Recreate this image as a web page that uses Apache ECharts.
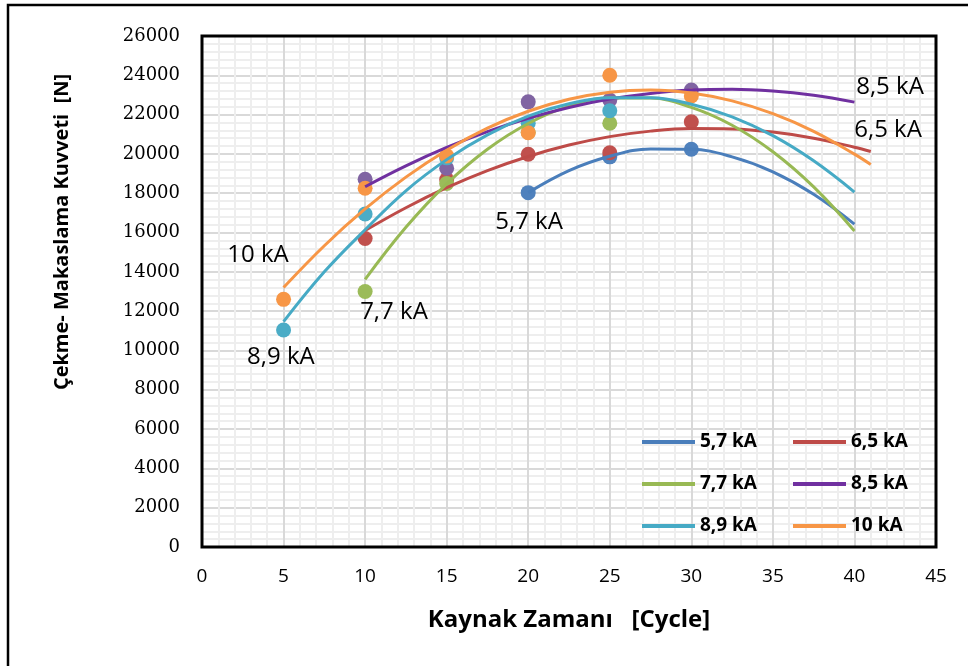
<!DOCTYPE html>
<html>
<head>
<meta charset="utf-8">
<script src="https://cdn.jsdelivr.net/npm/echarts@6/dist/echarts.min.js"></script>
<style>
html,body{margin:0;padding:0;background:#fff;}
#c{width:968px;height:666px;}
</style>
</head>
<body>
<div id="c"></div>
<script>
// ---- data ----
const seriesNames = ['5,7 kA', '6,5 kA', '7,7 kA', '8,5 kA', '8,9 kA', '10 kA'];

// measured points [cycle, N]
const pts57 = [[20, 18030], [25, 19850], [30, 20240]];
const pts65 = [[10, 15700], [15, 18700], [20, 19980], [25, 20060], [30, 21640]];
const pts77 = [[10, 13000], [15, 18500], [20, 21100], [25, 21560]];
const pts85 = [[10, 18710], [15, 19270], [20, 22650], [25, 22740], [30, 23250]];
const pts89 = [[5, 11040], [10, 16940], [15, 19800], [20, 21560], [25, 22200]];
const pts10 = [[5, 12600], [10, 18250], [15, 19900], [20, 21080], [25, 24000], [30, 22950]];

// trend curves [cycle, N]
const trend57 = [[20, 18030], [22.5, 19150], [25, 19880], [27.5, 20250], [30, 20235], [32.5, 19850], [35, 19090], [37.5, 17950], [40, 16430]];
const trend65 = [[10, 16100], [12.5, 17260], [15, 18280], [17.5, 19150], [20, 19870], [22.5, 20450], [25, 20880], [27.5, 21160], [30, 21290], [32.5, 21270], [35, 21110], [37.5, 20800], [40, 20340], [41, 20120]];
const trend77 = [[10, 13620], [12.5, 16270], [15, 18480], [17.5, 20240], [20, 21550], [22.5, 22430], [25, 22850], [27.5, 22840], [30, 22370], [32.5, 21460], [35, 20110], [37.5, 18320], [40, 16080]];
const trend85 = [[10, 18330], [12.5, 19390], [15, 20330], [17.5, 21135], [20, 21815], [22.5, 22365], [25, 22790], [27.5, 23080], [30, 23250], [32.5, 23290], [35, 23200], [37.5, 22980], [40, 22635]];
const trend89 = [[5, 11465], [7.5, 14000], [10, 16140], [12.5, 18125], [15, 19710], [17.5, 20970], [20, 21920], [22.5, 22550], [25, 22860], [27.5, 22860], [30, 22530], [32.5, 21890], [35, 20930], [37.5, 19650], [40, 18060]];
const trend10 = [[5, 13200], [7.5, 15330], [10, 17200], [12.5, 18820], [15, 20190], [17.5, 21310], [20, 22170], [22.5, 22780], [25, 23140], [27.5, 23250], [30, 23100], [32.5, 22700], [35, 22050], [37.5, 21150], [40, 19990], [41, 19460]];

const xTicks = [0, 5, 10, 15, 20, 25, 30, 35, 40, 45];
const yTicks = [0, 2000, 4000, 6000, 8000, 10000, 12000, 14000, 16000, 18000, 20000, 22000, 24000, 26000];

// annotation texts and their anchor in data units
const noteTexts = ['10 kA', '5,7 kA', '7,7 kA', '8,9 kA', '8,5 kA', '6,5 kA'];
const noteAnchors = [[3.43, 14850], [20.05, 16530], [11.77, 11960], [4.84, 9670], [42.18, 23400], [42.06, 21220]];

// ---- styling ----
const markerColors = ['#4F81BD', '#C0504D', '#9BBB59', '#8064A2', '#4BACC6', '#F79646'];
const lineColors = ['#4A7EBB', '#BE4B48', '#98B954', '#7030A0', '#46AAC5', '#F79646'];
const allPts = [pts57, pts65, pts77, pts85, pts89, pts10];
const allTrend = [trend57, trend65, trend77, trend85, trend89, trend10];

const sans = "'Open Sans', 'Noto Sans', sans-serif";

const series = [];
seriesNames.forEach((n, i) => {
  series.push({
    name: n, type: 'line', data: allTrend[i], smooth: 0.4, showSymbol: false, symbol: 'none',
    lineStyle: { color: lineColors[i], width: 3 }, itemStyle: { color: lineColors[i] },
    z: 3, silent: true, animation: false
  });
});
seriesNames.forEach((n, i) => {
  series.push({
    name: n, type: 'scatter', data: allPts[i], symbol: 'circle', symbolSize: 15,
    itemStyle: { color: markerColors[i], opacity: 1 }, z: 2, animation: false
  });
});

const chart = echarts.init(document.getElementById('c'), null, { renderer: 'canvas' });

const axisCommon = {
  axisLine: { show: false },
  axisTick: { show: false },
  splitLine: { show: true, lineStyle: { color: '#d9d9d9', width: 2 } },
  minorTick: { show: false, splitNumber: 5 },
  minorSplitLine: { show: true, lineStyle: { color: '#eeeeee', width: 2 } }
};

const legendCommon = {
  orient: 'vertical', itemWidth: 53, itemHeight: 4, itemGap: 22,
  textStyle: { fontFamily: sans, fontWeight: 'bold', fontSize: 19, color: '#000', lineHeight: 20 },
  selectedMode: true
};

const gridBox = { left: 202, right: 32, top: 36, bottom: 119 };

chart.setOption({
  animation: false,
  backgroundColor: '#fff',
  grid: Object.assign({ show: false, containLabel: false }, gridBox),
  xAxis: Object.assign({
    type: 'value', min: xTicks[0], max: xTicks[xTicks.length - 1], interval: 5,
    axisLabel: { fontFamily: sans, fontSize: 19, color: '#000', margin: 20 }
  }, axisCommon),
  yAxis: Object.assign({
    type: 'value', min: yTicks[0], max: yTicks[yTicks.length - 1], interval: 2000,
    axisLabel: { fontFamily: "'DejaVu Serif', serif", fontSize: 18, color: '#000', margin: 22, formatter: v => String(v) }
  }, axisCommon),
  legend: [
    Object.assign({ left: 637, top: 427, data: [0, 2, 4].map(i => ({ name: seriesNames[i], icon: 'rect', itemStyle: { color: lineColors[i] } })) }, legendCommon),
    Object.assign({ left: 788, top: 427, data: [1, 3, 5].map(i => ({ name: seriesNames[i], icon: 'rect', itemStyle: { color: lineColors[i] } })) }, legendCommon)
  ],
  series: series
});

// plot frame from the axis scales
const p0 = chart.convertToPixel({ gridIndex: 0 }, [xTicks[0], yTicks[yTicks.length - 1]]);
const p1 = chart.convertToPixel({ gridIndex: 0 }, [xTicks[xTicks.length - 1], yTicks[0]]);

const graphics = [
  { type: 'rect', shape: { x: 8, y: 5, width: 1200, height: 900 }, style: { fill: 'none', stroke: '#000', lineWidth: 2.5 }, silent: true, z: 10 },
  { type: 'rect', shape: { x: p0[0], y: p0[1], width: p1[0] - p0[0], height: p1[1] - p0[1] }, style: { fill: 'none', stroke: '#000', lineWidth: 3 }, silent: true, z: 10 },
  { type: 'text', x: 569, y: 620, style: { text: 'Kaynak Zamanı   [Cycle]', fontFamily: sans, fontWeight: 'bold', fontSize: 24, fill: '#000', textAlign: 'center', textVerticalAlign: 'middle' }, z: 10 },
  { type: 'text', x: 62, y: 232, rotation: Math.PI / 2, style: { text: 'Çekme- Makaslama Kuvveti  [N]', x: 0, y: 0, fontFamily: sans, fontWeight: 'bold', fontSize: 20, fill: '#000', textAlign: 'center', textVerticalAlign: 'middle' }, z: 10 }
];
noteTexts.forEach((t, i) => {
  const p = chart.convertToPixel({ gridIndex: 0 }, noteAnchors[i]);
  graphics.push({ type: 'text', x: p[0], y: p[1], style: { text: t, fontFamily: sans, fontSize: 24, fill: '#000', textAlign: 'center', textVerticalAlign: 'middle' }, z: 10, silent: true });
});
chart.setOption({ graphic: graphics });
</script>
</body>
</html>
